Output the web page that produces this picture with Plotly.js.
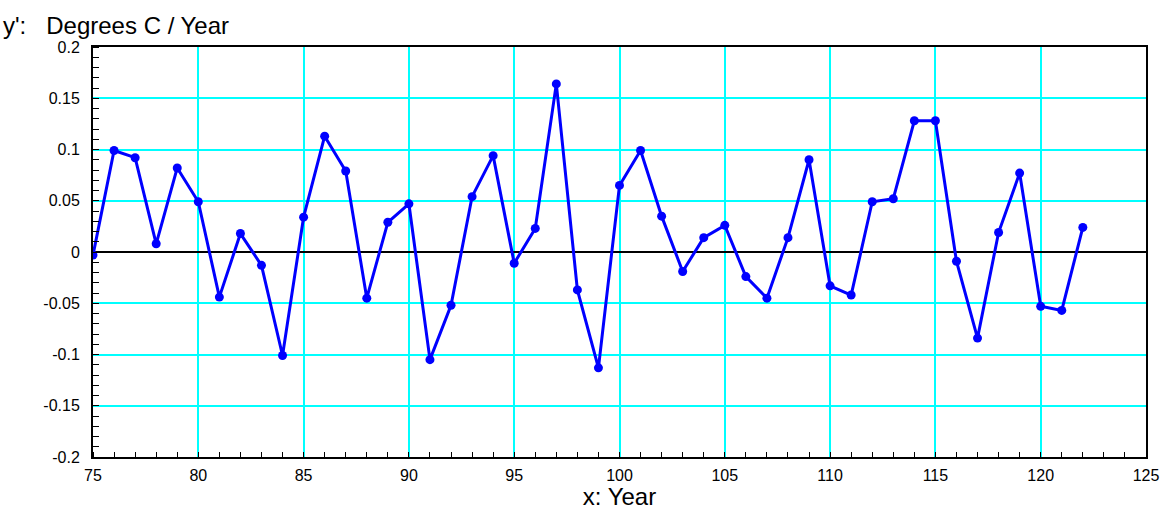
<!DOCTYPE html>
<html>
<head>
<meta charset="utf-8">
<script src="https://cdn.plot.ly/plotly-3.0.1.min.js"></script>
<style>
html, body { margin: 0; padding: 0; background: #fff; }
#chart { width: 1165px; height: 510px; }
</style>
</head>
<body>
<div id="chart"></div>
<script>
const years = [75, 76, 77, 78, 79, 80, 81, 82, 83, 84, 85, 86, 87, 88, 89, 90, 91, 92, 93, 94, 95, 96, 97, 98,
  99, 100, 101, 102, 103, 104, 105, 106, 107, 108, 109, 110, 111, 112, 113, 114, 115, 116, 117, 118, 119, 120, 121, 122];
const rates = [-0.003, 0.099, 0.092, 0.008, 0.082, 0.049, -0.044, 0.018, -0.013, -0.101, 0.034, 0.113, 0.079, -0.045,
  0.029, 0.047, -0.105, -0.052, 0.054, 0.094, -0.011, 0.023, 0.164, -0.037, -0.113, 0.065, 0.099, 0.035, -0.019,
  0.014, 0.026, -0.024, -0.045, 0.014, 0.090, -0.033, -0.042, 0.049, 0.052, 0.128, 0.128, -0.009, -0.084, 0.019,
  0.077, -0.053, -0.057, 0.024];
const xTickVals = [75, 80, 85, 90, 95, 100, 105, 110, 115, 120, 125];
const xTickText = ['75', '80', '85', '90', '95', '100', '105', '110', '115', '120', '125'];
const yTickVals = [-0.2, -0.15, -0.1, -0.05, 0, 0.05, 0.1, 0.15, 0.2];
const yTickText = ['-0.2', '-0.15', '-0.1', '-0.05', '0', '0.05', '0.1', '0.15', '0.2'];
const yTitle = "y':\u00A0\u00A0\u00A0Degrees C / Year";
const xTitle = "x: Year";

const trace = {
  x: years, y: rates, type: 'scatter', mode: 'lines+markers',
  line: { color: '#0000ff', width: 3 },
  marker: { color: '#0000ff', size: 9 },
  hoverinfo: 'x+y'
};

const fam = 'Liberation Sans, Arial, Helvetica, sans-serif';

const layout = {
  width: 1165, height: 510,
  margin: { l: 93, r: 19, t: 47, b: 53, pad: 0 },
  paper_bgcolor: '#fff', plot_bgcolor: '#fff',
  showlegend: false,
  font: { family: fam, color: '#000' },
  xaxis: {
    range: [75, 125],
    tickmode: 'array', tickvals: xTickVals, ticktext: xTickText,
    showgrid: true, gridcolor: '#00ffff', gridwidth: 2,
    zeroline: false,
    showline: true, linecolor: '#000', linewidth: 2, mirror: true,
    ticks: '', ticklen: 0,
    ticklabelstandoff: 3,
    tickfont: { family: fam, size: 16, color: '#000' },
    minor: { dtick: 1, tick0: 75, ticks: 'inside', ticklen: 5, tickcolor: '#000', tickwidth: 1, showgrid: false },
    title: { text: xTitle, font: { family: fam, size: 24, color: '#000' }, standoff: 6 }
  },
  yaxis: {
    range: [-0.2, 0.2],
    tickmode: 'array', tickvals: yTickVals, ticktext: yTickText,
    showgrid: true, gridcolor: '#00ffff', gridwidth: 2,
    zeroline: true, zerolinecolor: '#000', zerolinewidth: 2,
    showline: true, linecolor: '#000', linewidth: 2, mirror: true,
    ticks: '', ticklen: 0,
    ticklabelstandoff: 8,
    tickfont: { family: fam, size: 16, color: '#000' },
    minor: { dtick: 0.01, tick0: 0, ticks: 'inside', ticklen: 6, tickcolor: '#000', tickwidth: 1, showgrid: false }
  },
  annotations: [{
    text: yTitle, xref: 'paper', yref: 'paper',
    x: -0.0875, y: 1, xanchor: 'left', yanchor: 'bottom', yshift: 6,
    showarrow: false, font: { family: fam, size: 24, color: '#000' }
  }]
};

Plotly.newPlot('chart', [trace], layout, { displayModeBar: false, staticPlot: true });
</script>
</body>
</html>
